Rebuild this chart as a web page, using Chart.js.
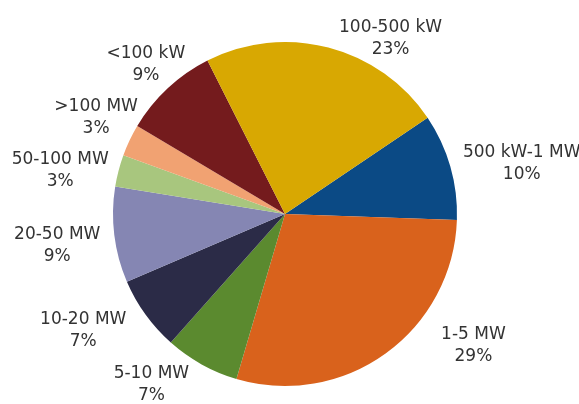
<!DOCTYPE html>
<html>
<head>
<meta charset="utf-8">
<script src="https://cdn.jsdelivr.net/npm/chart.js@4"></script>
<style>
  html, body { margin: 0; padding: 0; background: #fff; }
  #wrap { width: 579px; height: 404px; }
</style>
</head>
<body>
<div id="wrap"><canvas id="pie"></canvas></div>
<script>
const categorias = ['500 kW-1 MW', '1-5 MW', '5-10 MW', '10-20 MW', '20-50 MW', '50-100 MW', '>100 MW', '<100 kW', '100-500 kW'];
const porcentajes = [10, 29, 7, 7, 9, 3, 3, 9, 23];
const colores = ['#0B4A85', '#D9621C', '#5B8A2F', '#2B2B47', '#8586B3', '#A8C67E', '#F1A272', '#741B1D', '#D8A802'];

// where each label sits: angle from top (deg, clockwise) and distance from centre in px
const posEtiquetas = [[78, 242], [125, 230], [218, 217], [240, 233], [262, 230], [281, 229], [297, 212], [317, 204], [31, 205]];

const etiquetas = {
  id: 'etiquetas',
  afterDatasetsDraw(chart) {
    const ctx = chart.ctx;
    const arc = chart.getDatasetMeta(0).data[0];
    const cx = arc.x, cy = arc.y;
    ctx.save();
    ctx.font = '17px "DejaVu Sans"';
    ctx.fillStyle = '#333';
    ctx.textAlign = 'center';
    ctx.textBaseline = 'middle';
    categorias.forEach((c, i) => {
      const a = posEtiquetas[i][0] * Math.PI / 180;
      const d = posEtiquetas[i][1];
      const x = cx + d * Math.sin(a);
      const y = cy - d * Math.cos(a);
      ctx.fillText(c, x, y - 11);
      ctx.fillText(porcentajes[i] + '%', x, y + 11);
    });
    ctx.restore();
  }
};

new Chart(document.getElementById('pie'), {
  type: 'pie',
  data: {
    labels: categorias,
    datasets: [{
      data: porcentajes,
      backgroundColor: colores,
      borderWidth: 0
    }]
  },
  options: {
    responsive: true,
    maintainAspectRatio: false,
    animation: false,
    rotation: 56,
    layout: { padding: { top: 42, bottom: 18, left: 113, right: 122 } },
    plugins: {
      legend: { display: false },
      tooltip: { enabled: false }
    }
  },
  plugins: [etiquetas]
});
</script>
</body>
</html>
